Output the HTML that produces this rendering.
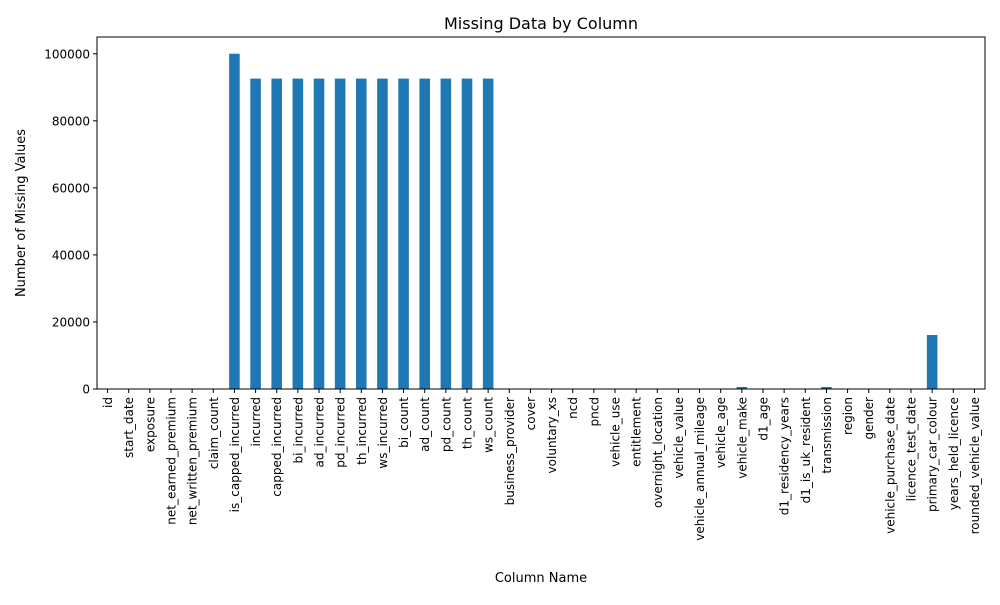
<!DOCTYPE html>
<html><head><meta charset="utf-8"><style>
body{margin:0;background:#fff;}
svg text{font-family:"DejaVu Sans","Liberation Sans",sans-serif;fill:#000;}
</style></head><body>
<svg id="chart" width="1000" height="600">
<text x="541" y="29" font-size="16" text-anchor="middle">Missing Data by Column</text>
<text x="541" y="582" font-size="13" text-anchor="middle">Column Name</text>
<text transform="translate(25,213) rotate(-90)" font-size="13" text-anchor="middle">Number of Missing Values</text>
<g id="bars"></g><g id="xt"></g><g id="yt"></g>
<rect x="97" y="37" width="888" height="352" fill="none" stroke="#000" stroke-width="1"/>
</svg>
<script>
const categories=["id","start_date","exposure","net_earned_premium","net_written_premium","claim_count","is_capped_incurred","incurred","capped_incurred","bi_incurred","ad_incurred","pd_incurred","th_incurred","ws_incurred","bi_count","ad_count","pd_count","th_count","ws_count","business_provider","cover","voluntary_xs","ncd","pncd","vehicle_use","entitlement","overnight_location","vehicle_value","vehicle_annual_mileage","vehicle_age","vehicle_make","d1_age","d1_residency_years","d1_is_uk_resident","transmission","region","gender","vehicle_purchase_date","licence_test_date","primary_car_colour","years_held_licence","rounded_vehicle_value"];
const missingValues=[0,0,0,0,0,0,100000,92600,92600,92600,92600,92600,92600,92600,92600,92600,92600,92600,92600,0,0,0,0,0,0,0,0,0,0,0,600,0,0,0,600,0,0,0,0,16100,0,0];
const yTicks=[0,20000,40000,60000,80000,100000];
const L=97,R=985,T=37,B=389,yMax=105000;
const NS="http://www.w3.org/2000/svg";
const bw=(R-L)/categories.length;
const xs=i=>L+bw*(i+0.5);
const ys=v=>B-(v/yMax)*(B-T);
function mk(t,a,p){const e=document.createElementNS(NS,t);for(const k in a)e.setAttribute(k,a[k]);p.appendChild(e);return e;}
const gb=document.getElementById('bars'),gx=document.getElementById('xt'),gy=document.getElementById('yt');
categories.forEach((c,i)=>{
 const v=missingValues[i];
 const r=mk('rect',{x:xs(i)-bw/4,y:ys(v),width:bw/2,height:B-ys(v),fill:'#1f77b4'},gb);
 
 
 mk('line',{x1:xs(i),x2:xs(i),y1:B,y2:B+4,stroke:'#000'},gx);
 const t=mk('text',{transform:`translate(${xs(i)+4.5},${B+8}) rotate(-90)`,'font-size':12,'text-anchor':'end'},gx);
 t.textContent=c;
 
 
});
yTicks.forEach(v=>{
 mk('line',{x1:L-4,x2:L,y1:ys(v),y2:ys(v),stroke:'#000'},gy);
 const t=mk('text',{x:L-7,y:ys(v)+4.5,'font-size':12,'text-anchor':'end'},gy);
 t.textContent=v;
 
 
});
</script>
</body></html>
